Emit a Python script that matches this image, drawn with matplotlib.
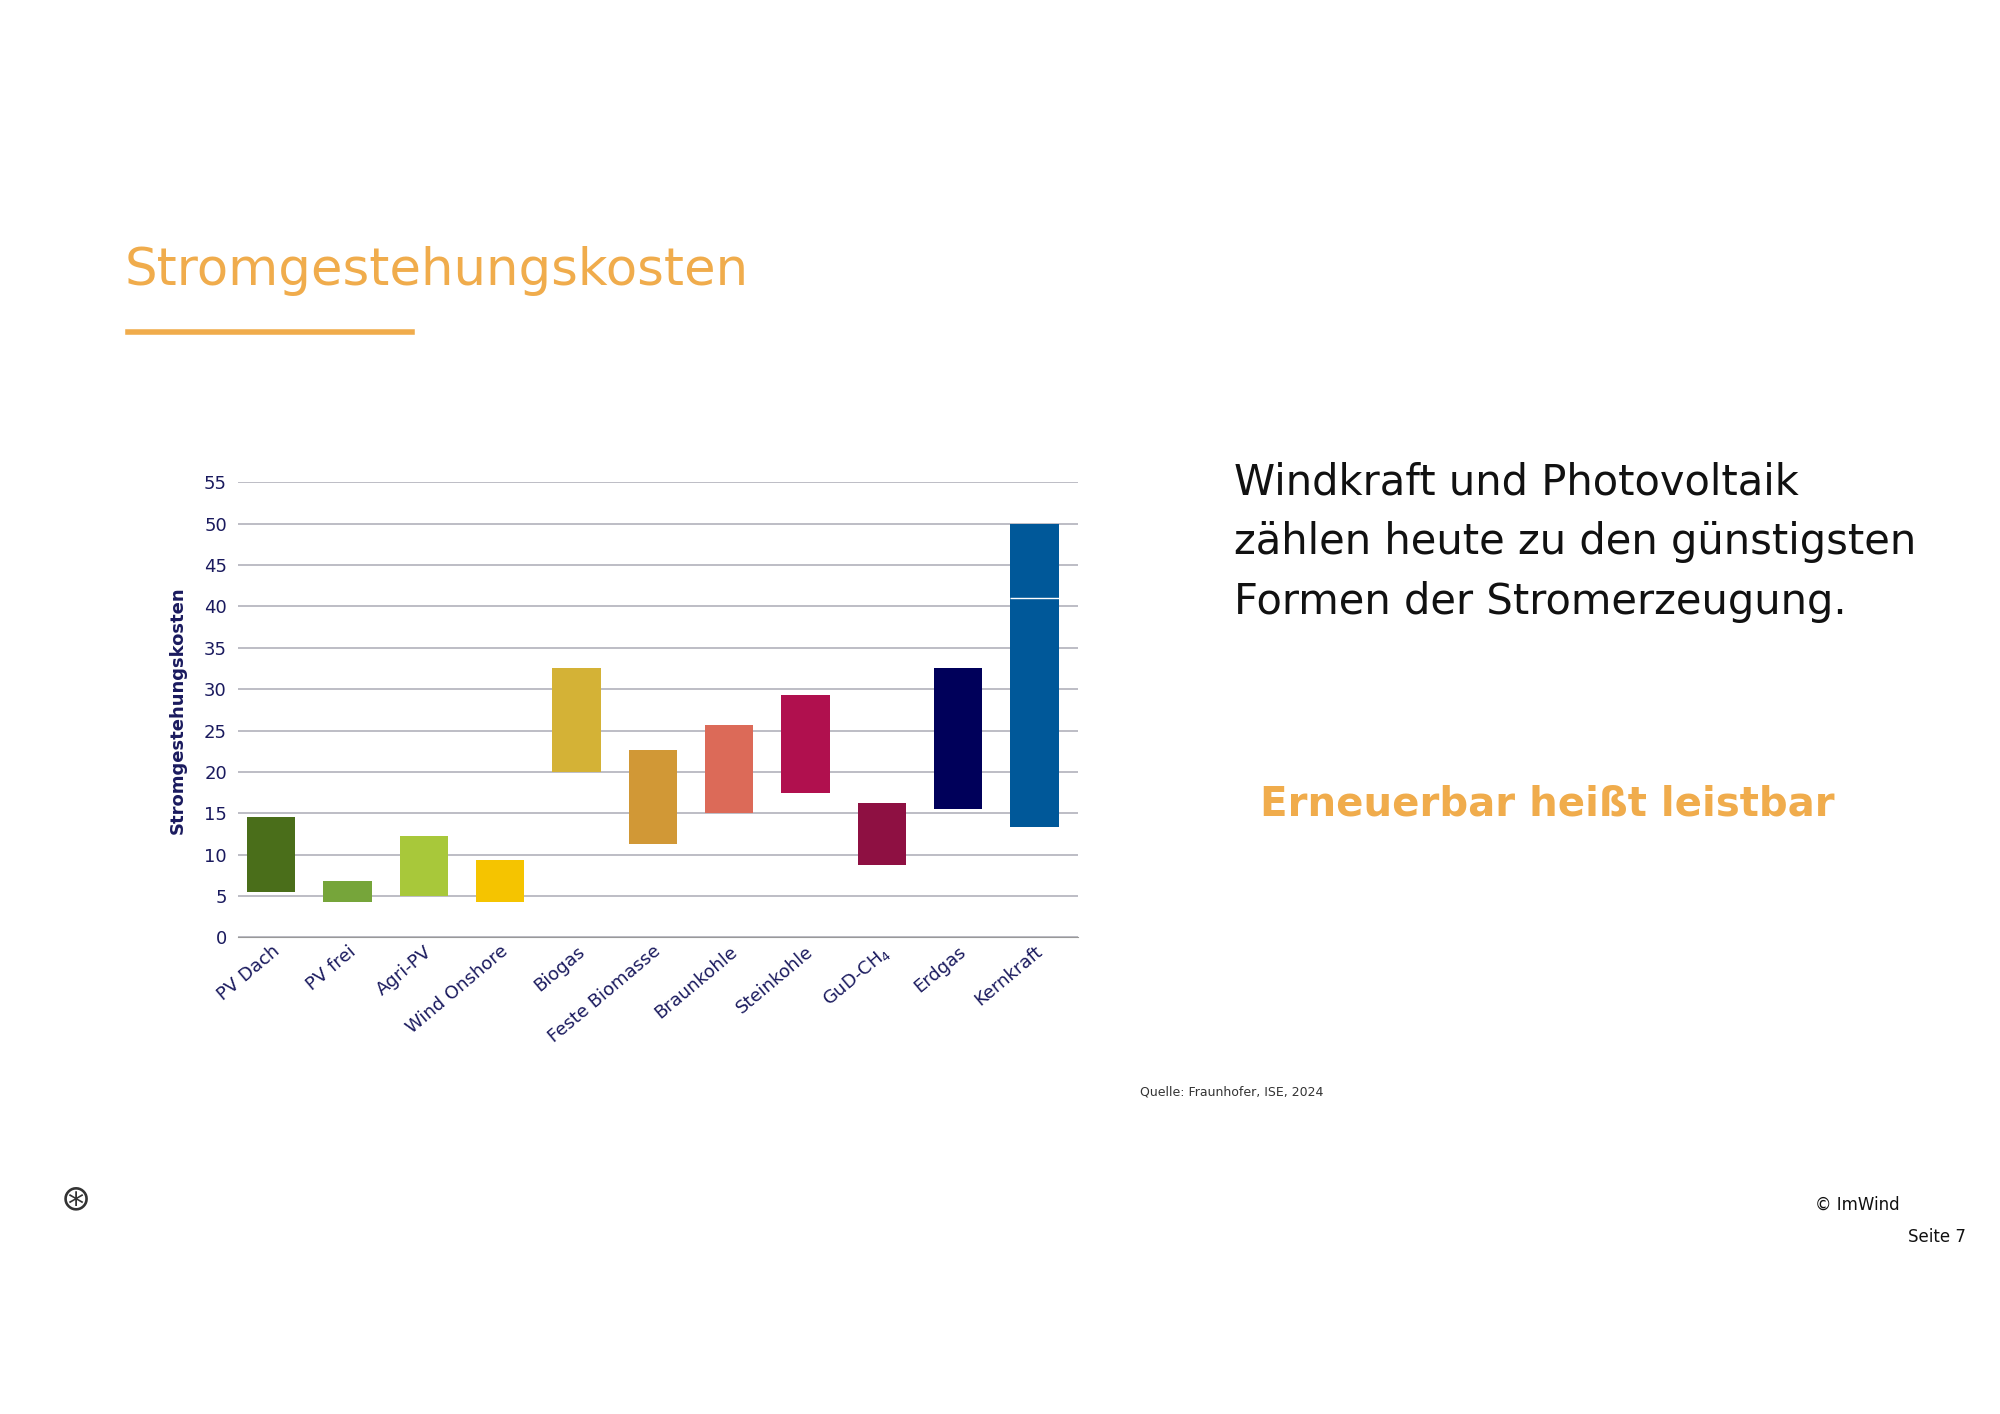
import matplotlib
matplotlib.use("Agg")
import matplotlib.pyplot as plt
from matplotlib.lines import Line2D

categories = ["PV Dach", "PV frei", "Agri-PV", "Wind Onshore", "Biogas", "Feste Biomasse",
              "Braunkohle", "Steinkohle", "GuD-CH$_4$", "Erdgas", "Kernkraft"]
low = [5.5, 4.3, 5.0, 4.3, 20.0, 11.3, 15.0, 17.4, 8.8, 15.5, 13.4]
high = [14.5, 6.8, 12.3, 9.4, 32.6, 22.7, 25.7, 29.3, 16.2, 32.6, 50.0]
colors = ["#4a6e1a", "#76a53a", "#a8c83a", "#f5c400", "#d4b236", "#d19836",
          "#dc6a58", "#b0104e", "#8e1042", "#00005a", "#005899"]
kern_mark = 41.0
yticks = list(range(0, 60, 5))

orange = "#f0ac4c"
navy = "#1a1a5e"

fig = plt.figure(figsize=(20, 14.14), dpi=100)
ax = fig.add_axes([0.119, 0.337, 0.42, 0.322])
x = range(len(categories))
ax.bar(x, [h - l for h, l in zip(high, low)], bottom=low, color=colors, width=0.63, zorder=3)
ax.hlines(kern_mark, len(categories) - 1 - 0.315, len(categories) - 1 + 0.315, color="white", lw=1, zorder=4)
ax.set_ylim(0, 55)
ax.set_xlim(-0.435, len(categories) - 0.43)
ax.set_yticks(yticks)
ax.set_yticklabels([str(t) for t in yticks], fontsize=13, color=navy)
ax.yaxis.grid(True, color="#b8b8c0", lw=1.3, zorder=0)
ax.tick_params(axis="y", length=0, pad=8)
ax.tick_params(axis="x", length=0)
ax.set_xticks(list(x))
ax.set_xticklabels(categories, rotation=40, ha="right", rotation_mode="anchor", fontsize=13, color=navy)
for s in ["top", "right", "left"]:
    ax.spines[s].set_visible(False)
ax.spines["bottom"].set_color("#999999")
ax.set_ylabel("Stromgestehungskosten", fontsize=13, color=navy, fontweight="bold", labelpad=12)

fig.text(0.0625, 0.808, "Stromgestehungskosten", fontsize=37, color=orange, va="center")
fig.add_artist(Line2D([0.064, 0.206], [0.765, 0.765], color=orange, lw=4))

for i, line in enumerate(["Windkraft und Photovoltaik", "zählen heute zu den günstigsten", "Formen der Stromerzeugung."]):
    fig.text(0.617, 0.659 - i * 0.0425, line, fontsize=30, color="#111111", va="center")
fig.text(0.630, 0.431, "Erneuerbar heißt leistbar", fontsize=29, color=orange, fontweight="bold", va="center")
fig.text(0.570, 0.228, "Quelle: Fraunhofer, ISE, 2024", fontsize=9, color="#333333", va="center")
fig.text(0.9075, 0.148, "© ImWind", fontsize=12, color="#111111", va="center")
fig.text(0.954, 0.125, "Seite 7", fontsize=12, color="#111111", va="center")
fig.text(0.038, 0.152, "⊛", fontsize=26, color="#333333", va="center", ha="center")

fig.savefig("out.png", dpi=100, facecolor="white")
